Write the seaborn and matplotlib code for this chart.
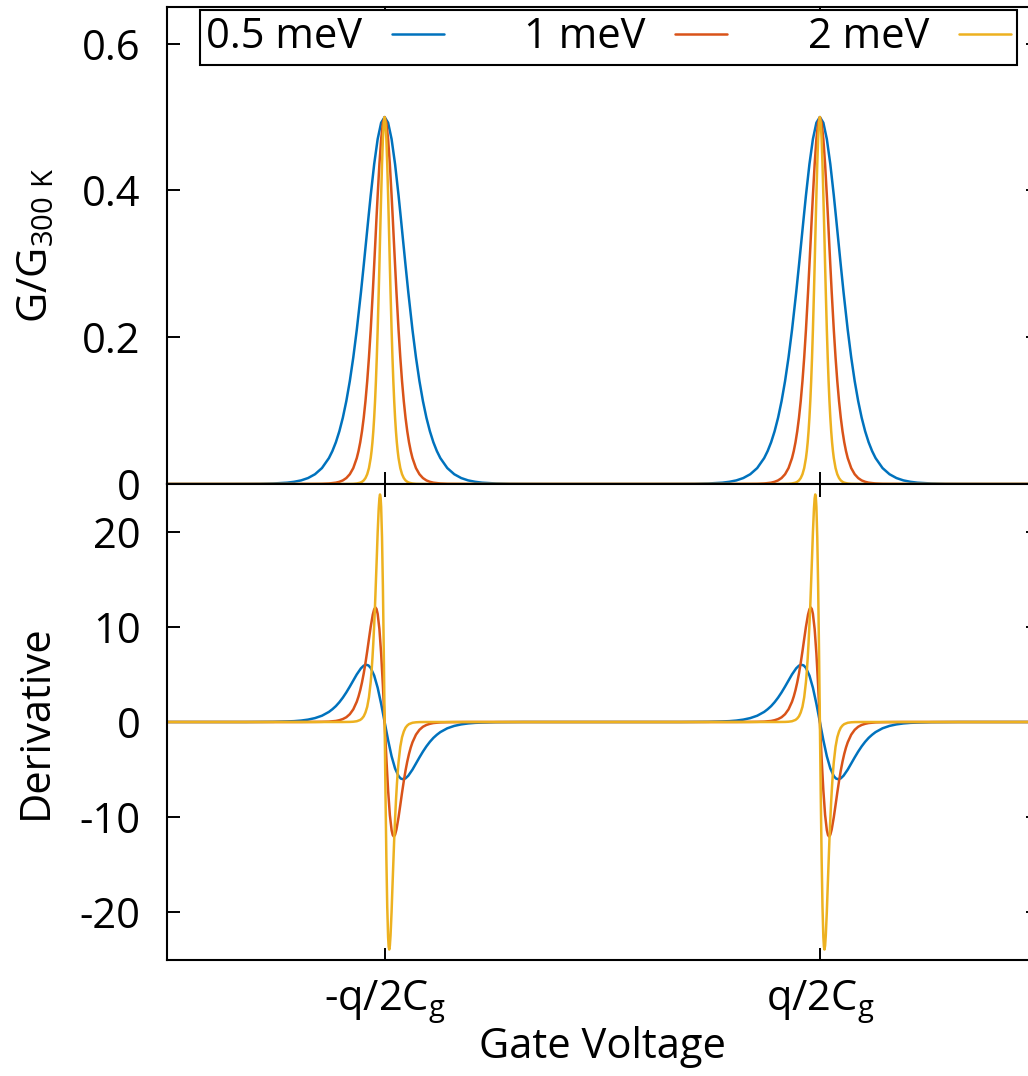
import matplotlib
matplotlib.use("Agg")
import matplotlib.pyplot as plt
import numpy as np
import pandas as pd
import seaborn as sns

# peak positions on the gate voltage axis (units of q/Cg)
centers = [-0.5, 0.5]
x_limits = [-1.0, 1.0]
tick_pos = [-0.5, 0.5]
tick_labels = ["-q/2C$_\\mathregular{g}$", "q/2C$_\\mathregular{g}$"]

labels = ["0.5 meV", "1 meV", "2 meV"]
colors = ["#0072BD", "#D95319", "#EDB120"]

# one-sided peak profiles (distance from the peak centre)
off_05 = [0, 0.008, 0.016, 0.024, 0.032, 0.0371, 0.0422, 0.048, 0.0544, 0.064,
          0.072, 0.080, 0.088, 0.096, 0.104, 0.112, 0.120, 0.128, 0.144, 0.160,
          0.176, 0.192, 0.208, 0.224, 0.256, 0.288, 0.320, 0.384]
off_1 = [0, 0.004, 0.008, 0.012, 0.016, 0.0186, 0.0211, 0.024, 0.0272, 0.032,
         0.036, 0.040, 0.044, 0.048, 0.052, 0.056, 0.060, 0.064, 0.072, 0.080,
         0.088, 0.096, 0.104, 0.112, 0.128, 0.144, 0.160, 0.192]
off_2 = [0, 0.002, 0.004, 0.006, 0.008, 0.0093, 0.0106, 0.012, 0.0136, 0.016,
         0.018, 0.020, 0.022, 0.024, 0.026, 0.028, 0.030, 0.032, 0.036, 0.040,
         0.044, 0.048, 0.052, 0.056, 0.064, 0.072, 0.080, 0.096]

# G/G300K along each profile (all three peaks reach 0.5)
g_05 = [0.500, 0.4923, 0.4700, 0.4358, 0.3932, 0.3634, 0.3328, 0.2983, 0.2612,
        0.2100, 0.1725, 0.1402, 0.1130, 0.0904, 0.0719, 0.0569, 0.0449, 0.0353,
        0.0217, 0.0133, 0.0081, 0.0049, 0.0030, 0.0018, 0.0007, 0.0002, 0.0001, 0.0]
g_1 = [0.500, 0.4923, 0.4700, 0.4358, 0.3932, 0.3634, 0.3328, 0.2983, 0.2612,
       0.2100, 0.1725, 0.1402, 0.1130, 0.0904, 0.0719, 0.0569, 0.0449, 0.0353,
       0.0217, 0.0133, 0.0081, 0.0049, 0.0030, 0.0018, 0.0007, 0.0002, 0.0001, 0.0]
g_2 = [0.500, 0.4923, 0.4700, 0.4358, 0.3932, 0.3634, 0.3328, 0.2983, 0.2612,
       0.2100, 0.1725, 0.1402, 0.1130, 0.0904, 0.0719, 0.0569, 0.0449, 0.0353,
       0.0217, 0.0133, 0.0081, 0.0049, 0.0030, 0.0018, 0.0007, 0.0002, 0.0001, 0.0]

# derivative magnitude (positive on the rising side, negative on the falling side)
d_05 = [0, 1.91, 3.60, 4.88, 5.68, 5.94, 6.01, 5.92, 5.64, 5.00, 4.36, 3.72,
        3.11, 2.56, 2.08, 1.67, 1.34, 1.06, 0.66, 0.41, 0.25, 0.15, 0.09, 0.06,
        0.02, 0.01, 0.0, 0]
d_1 = [0, 3.83, 7.19, 9.76, 11.36, 11.87, 12.03, 11.84, 11.28, 10.00, 8.73, 7.43,
       6.21, 5.11, 4.16, 3.35, 2.68, 2.13, 1.33, 0.82, 0.50, 0.31, 0.19, 0.11,
       0.04, 0.02, 0.01, 0]
d_2 = [0, 7.6, 14.3, 19.4, 22.6, 23.6, 23.9, 23.5, 22.4, 19.9, 17.3, 14.8,
       12.3, 10.2, 8.3, 6.7, 5.3, 4.2, 2.6, 1.6, 1.0, 0.6, 0.37, 0.22,
       0.08, 0.03, 0.01, 0]

profiles = [(off_05, g_05, d_05), (off_1, g_1, d_1), (off_2, g_2, d_2)]


def build_frame():
    rows = []
    for label, (off, g, d) in zip(labels, profiles):
        off = np.asarray(off)
        g = np.asarray(g)
        d = np.asarray(d)
        xs = [x_limits[0]]
        gs = [0.0]
        ds = [0.0]
        for c in centers:
            xs += list(c - off[::-1][:-1]) + list(c + off)
            gs += list(g[::-1][:-1]) + list(g)
            ds += list(d[::-1][:-1]) + list(-d)
        xs.append(x_limits[1])
        gs.append(0.0)
        ds.append(0.0)
        rows.append(pd.DataFrame({"x": xs, "G": gs, "dG": ds, "width": label}))
    return pd.concat(rows, ignore_index=True)


df = build_frame()

sns.set_theme(style="ticks")
plt.rcParams["font.family"] = ["Open Sans", "DejaVu Sans"]
plt.rcParams["axes.unicode_minus"] = False
plt.rcParams["text.color"] = "black"
plt.rcParams["axes.labelcolor"] = "black"
plt.rcParams["xtick.color"] = "black"
plt.rcParams["ytick.color"] = "black"
plt.rcParams["axes.linewidth"] = 1.5
plt.rcParams["axes.edgecolor"] = "black"

W, H = 1028, 1076
fig = plt.figure(figsize=(W / 100, H / 100), dpi=100)
left = 167 / W
width = 870.5 / W
ax1 = fig.add_axes([left, 1 - 484 / H, width, 477 / H])
ax2 = fig.add_axes([left, 1 - 960 / H, width, 476 / H], sharex=ax1)

palette = dict(zip(labels, colors))
sns.lineplot(data=df, x="x", y="G", hue="width", palette=palette, ax=ax1,
             estimator=None, sort=False, linewidth=1.8, legend=True)
sns.lineplot(data=df, x="x", y="dG", hue="width", palette=palette, ax=ax2,
             estimator=None, sort=False, linewidth=1.8, legend=False)

fs = 30
for ax in (ax1, ax2):
    ax.set_xlim(*x_limits)
    ax.tick_params(direction="in", length=9, width=1.4, color="black",
                   labelsize=fs, labelcolor="black", right=True, top=True)
    ax.tick_params(axis="y", pad=19)
    for sp in ax.spines.values():
        sp.set_color("black")
        sp.set_linewidth(1.5)

ax1.set_ylim(0, 0.65)
ax1.set_yticks([0, 0.2, 0.4, 0.6])
ax1.set_yticklabels(["0", "0.2", "0.4", "0.6"])
ax1.set_xticks(tick_pos)
ax1.tick_params(axis="x", labelbottom=False)
ax1.set_xlabel("")
ax1.set_ylabel("G/G$_\\mathregular{300\\ K}$", fontsize=fs, color="black")
ax1.yaxis.set_label_coords(-0.126, 0.5)

ax2.set_ylim(-25, 25)
ax2.set_yticks([-20, -10, 0, 10, 20])
ax2.set_yticklabels(["-20", "-10", "0", "10", "20"])
ax2.set_xticks(tick_pos)
ax2.set_xticklabels(tick_labels)
ax2.tick_params(axis="x", pad=13)
ax2.set_ylabel("Derivative", fontsize=fs, color="black")
ax2.yaxis.set_label_coords(-0.126, 0.5)
ax2.set_xlabel("Gate Voltage", fontsize=fs, color="black", labelpad=0)

handles, leg_labels = ax1.get_legend_handles_labels()
ax1.get_legend().remove()
leg = fig.legend(handles, leg_labels, loc="upper left",
                 bbox_to_anchor=(200 / W, 1 - 10 / H), ncol=3,
                 markerfirst=False, fontsize=fs, frameon=True, fancybox=False,
                 framealpha=1, edgecolor="black", borderpad=0.15,
                 borderaxespad=0, handlelength=1.25, handletextpad=0.7,
                 columnspacing=1.94)
leg.get_frame().set_linewidth(1.5)
for t in leg.get_texts():
    t.set_color("black")

fig.savefig("out.png", dpi=100)
